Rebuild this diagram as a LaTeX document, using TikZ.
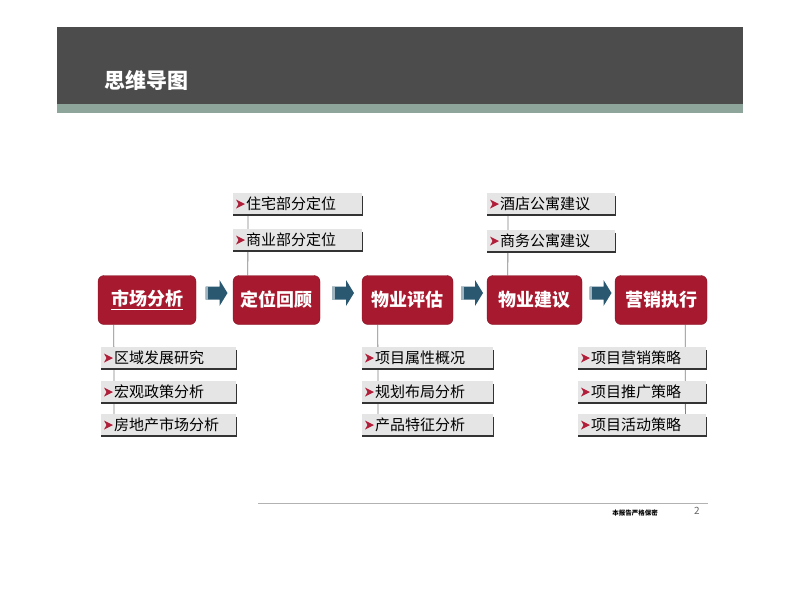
\documentclass[tikz,border=0pt]{standalone}
\usepackage{fontspec}
\setmainfont{Noto Sans CJK SC}
\usetikzlibrary{calc,backgrounds}

\definecolor{mainred}{HTML}{A6192E}
\definecolor{bulletred}{HTML}{B01E3A}
\definecolor{arrowblue}{HTML}{2B5871}
\definecolor{headgray}{HTML}{4C4C4C}
\definecolor{headgreen}{HTML}{8DA59A}

\begin{document}
\begin{tikzpicture}[
		x=1pt, y=-1pt,
		mainbox/.style={rectangle, rounded corners=6pt, fill=mainred, draw=mainred!80!black, text=white, font=\fontsize{18}{20}\selectfont\bfseries, minimum height=49pt, inner sep=0pt},
		subbox/.style={rectangle, fill=gray!20, anchor=west, font=\fontsize{15}{16}\selectfont, minimum height=22pt, inner sep=0pt, align=left},
		shadowline/.style={line width=1.8pt, black!80},
		linkline/.style={gray, line width=0.8pt},
		flowarrow/.style={fill=arrowblue}
	]
  \useasboundingbox (0,0) rectangle (800,600);
  % header
  \fill[headgray] (57,27) rectangle (743,104);
  \fill[headgreen] (57,104) rectangle (743,113);
  \node (title) [text=white, font=\fontsize{21}{22}\selectfont\bfseries, inner sep=0pt] at (146.5,80) {思维导图};
  % main steps
  \node (sc) [mainbox, minimum width=98pt] at (147,300) {\underline{市场分析}};
  \node (dw) [mainbox, minimum width=87pt] at (276.5,300) {定位回顾};
  \node (pg) [mainbox, minimum width=91pt] at (407.5,300) {物业评估};
  \node (jy) [mainbox, minimum width=95pt] at (534.5,300) {物业建议};
  \node (yx) [mainbox, minimum width=92pt] at (661,300) {营销执行};
  % sub items
  \foreach \name/\x/\y/\w/\txt in {
      zz/233/204/129/住宅部分定位, sy/233/240/129/商业部分定位,
      jd/487/204/128/酒店公寓建议, sw/487/241/128/商务公寓建议,
      qy/101/358/135/区域发展研究, hg/101/392/135/宏观政策分析, fd/101/425/135/房地产市场分析,
      xm/362/358/131/项目属性概况, gh/362/392/131/规划布局分析, cp/362/425/131/产品特征分析,
      yxcl/578/358/128/项目营销策略, tg/578/392/128/项目推广策略, hd/578/425/128/项目活动策略} {
    \node (\name) [subbox, text width=\w pt] at (\x,\y) {\hspace*{13pt}\txt};
    \draw[shadowline] ([yshift=-3pt]\name.north east) -- (\name.south east) -- (\name.south west);
    \fill[bulletred] ([xshift=3pt]\name.west) ++(0,-4.5) -- ++(9,4.5) -- ++(-9,4.5) -- ++(2.5,-4.5) -- cycle;
  }
  % links behind the boxes
  \begin{pgfonlayer}{background}
    \draw[linkline] ([xshift=15pt]dw.north west) -- ([xshift=15pt]zz.south west);
    \draw[linkline] ([xshift=21pt]jy.north west) -- ([xshift=21pt]jd.south west);
    \draw[linkline] ([xshift=16pt]sc.south west) -- ([xshift=13pt]fd.north west);
    \draw[linkline] ([xshift=16pt]pg.south west) -- ([xshift=16pt]cp.north west);
    \draw[linkline] ([xshift=-22pt]yx.south east) -- ([xshift=-21pt]hd.north east);
  \end{pgfonlayer}
  % arrows between steps
  \foreach \a/\b in {sc/dw, dw/pg, pg/jy, jy/yx} {
    \fill[flowarrow] ($(\a.east)!0.5!(\b.west)$) ++(-9,-13.5) -- ++(14,0) -- ++(0,-6.5) -- ++(8,13) -- ++(-8,13) -- ++(0,-6.5) -- ++(-14,0) -- cycle;
    \fill[arrowblue!45!white] ($(\a.east)!0.5!(\b.west)$) ++(-9,-13.5) rectangle ++(2.5,13);
  }
  % footer
  \draw[gray!60, line width=0.6pt] (258,503) -- (708,503);
  \node (secret) [font=\fontsize{6.5}{7}\selectfont\bfseries, inner sep=0pt] at (635,513) {本报告严格保密};
  \node (page) [font=\fontsize{10}{11}\selectfont, text=gray!80!black, inner sep=0pt] at (697,511) {2};
\end{tikzpicture}
\end{document}
